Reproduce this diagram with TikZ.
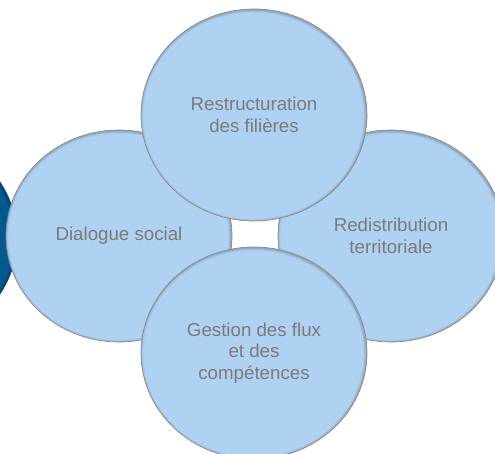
\documentclass[tikz,border=0pt]{standalone}
\usepackage{fontspec}
\setmainfont{Liberation Sans}
\usetikzlibrary{shapes.geometric}
\definecolor{bubblefill}{RGB}{176,210,242}
\definecolor{bubbleline}{RGB}{138,138,138}
\definecolor{textgray}{RGB}{122,122,122}
\definecolor{darkblue}{RGB}{0,90,142}
\tikzset{
  glow/.style={path picture={
    \foreach \w/\o in {6/0.04,4/0.06,2/0.10}
      \draw[line width=\w pt, black, opacity=\o]
        ([xshift=-0.6pt,yshift=-0.8pt]path picture bounding box.center) ellipse [x radius=113pt, y radius=106pt];
  }},
  bubble/.style={ellipse, minimum width=226pt, minimum height=212pt, inner sep=0pt,
    fill=bubblefill, draw=bubbleline, line width=0.7pt, glow,
    text=textgray, align=center, font=\fontsize{18.7}{21.7}\selectfont},
  darkbubble/.style={ellipse, minimum width=226pt, minimum height=212pt, inner sep=0pt,
    fill=darkblue, draw=darkblue!80!black, line width=0.7pt, glow}
}
\begin{document}
\begin{tikzpicture}[x=1pt,y=-1pt]
\useasboundingbox (0,0) rectangle (495,454);
\clip (0,0) rectangle (495,454);
\node[darkbubble] (edge) at (-96,238) {};
\node[bubble] (left) at (119,236) {Dialogue social};
\node[bubble] (right) at (391,236) {Redistribution\\territoriale};
\node[bubble] (top) at (254,115) {Restructuration\\des filières};
\node[bubble] (bottom) at (254,353) {Gestion des flux\\et des\\compétences};
\end{tikzpicture}
\end{document}
